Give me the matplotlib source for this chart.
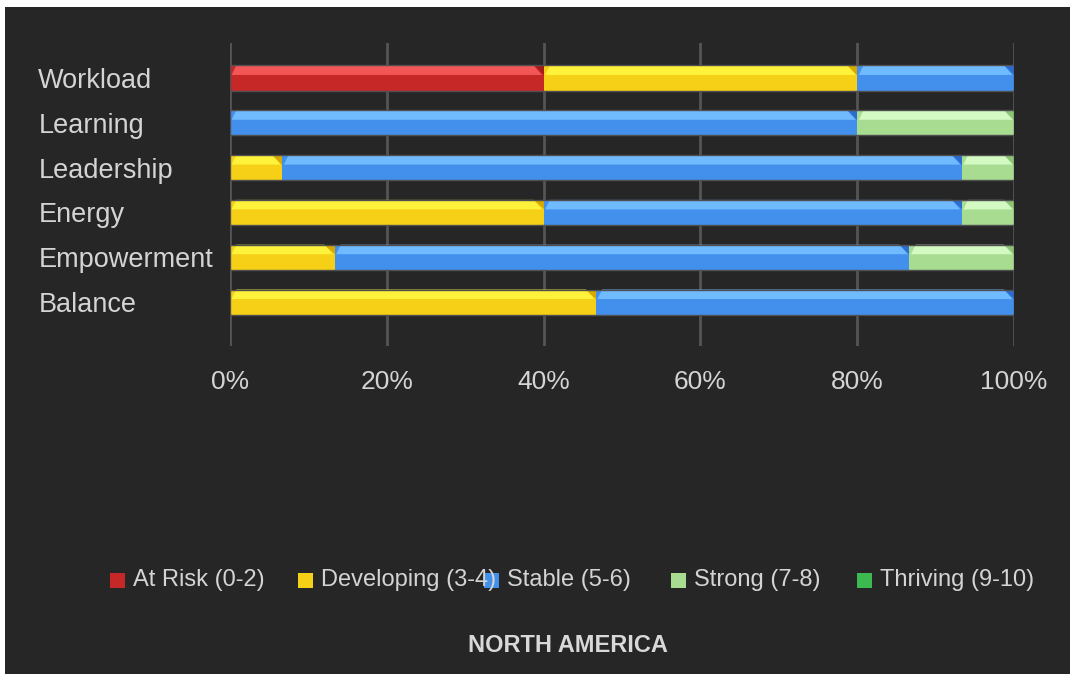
import numpy as np
import matplotlib
matplotlib.use("Agg")
import matplotlib.pyplot as plt
from matplotlib.patches import Polygon, Rectangle

plt.rcParams['font.family'] = ['Liberation Sans', 'DejaVu Sans']

categories = ['Workload', 'Learning', 'Leadership', 'Energy', 'Empowerment', 'Balance']
series = ['At Risk (0-2)', 'Developing (3-4)', 'Stable (5-6)', 'Strong (7-8)', 'Thriving (9-10)']
at_risk = [40, 0, 0, 0, 0, 0]
developing = [40, 0, 6.67, 40, 13.33, 46.67]
stable = [20, 80, 86.67, 53.33, 73.33, 53.33]
strong = [0, 20, 6.67, 6.67, 13.33, 0]
thriving = [0, 0, 0, 0, 0, 0]
ticks = [0, 20, 40, 60, 80, 100]

base_colors = ['#c62828', '#f5d016', '#4290ec', '#a8dc90', '#3cb950']
light_colors = ['#f25656', '#fff23a', '#70baff', '#d2fac2', '#6ee884']
dark_colors = ['#a31c1c', '#d6a800', '#2c6cd0', '#8cc476', '#2a9a3c']

BG = '#262626'
W, H = 1070, 675

fig = plt.figure(figsize=(W / 100, H / 100), dpi=100, facecolor='white')
# dark panel inside the thin white frame
fig.add_artist(Rectangle((5 / W, 1 / H), (W - 5) / W, (H - 8) / H,
                         transform=fig.transFigure, facecolor=BG,
                         edgecolor='none', zorder=-10))

ax = fig.add_axes([230 / W, (H - 346) / H, 784 / W, 303 / H])
ax.set_facecolor(BG)
ax.patch.set_alpha(0)

y = np.arange(len(categories))
bar_h = 0.56
data = [at_risk, developing, stable, strong, thriving]
left = np.zeros(len(categories))

strip = 0.38 * bar_h   # height of the highlight band
slant = 0.8            # horizontal run of the bevel ends, in %

for vals, base, light, dark in zip(data, base_colors, light_colors, dark_colors):
    vals = np.array(vals, dtype=float)
    ax.barh(y, vals, left=left, height=bar_h, color=base, edgecolor='none', zorder=3)
    for yi, l, v in zip(y, left, vals):
        if v <= 0:
            continue
        top = yi - bar_h / 2
        r = l + v
        # darker wedge in the top right corner
        ax.add_patch(Polygon([(r - slant * 1.6, top), (r, top), (r, top + strip)],
                             closed=True, facecolor=dark, edgecolor='none', zorder=4))
        # highlight band with slanted ends
        ax.add_patch(Polygon([(l + slant, top), (r - slant * 1.6, top),
                              (r - 0.2, top + strip), (l + 0.2, top + strip)],
                             closed=True, facecolor=light, edgecolor='none', zorder=5))
    left += vals

# thin outline round each full bar
for yi, total in zip(y, left):
    ax.add_patch(Rectangle((0, yi - bar_h / 2), total, bar_h, fill=False,
                           edgecolor='#505050', linewidth=1.0, zorder=6))

ax.set_xlim(0, 100)
ax.set_ylim(5.98, -0.78)
ax.set_xticks(ticks)
ax.set_xticklabels([f'{t}%' for t in ticks])
ax.set_yticks(y)
ax.set_yticklabels(categories)
for lbl in ax.get_yticklabels():
    lbl.set_horizontalalignment('left')
ax.tick_params(axis='x', length=0, pad=17, labelsize=19, labelcolor='#d4d4d4')
ax.tick_params(axis='y', length=0, pad=138, labelsize=19.5, labelcolor='#d4d4d4')
ax.grid(axis='x', color='#555555', linewidth=2, zorder=0)
ax.set_axisbelow(True)
for s in ax.spines.values():
    s.set_visible(False)

# legend row
marker_x = [110, 298, 484, 671, 857]
for mx, name, col in zip(marker_x, series, base_colors):
    fig.add_artist(Rectangle((mx / W, (H - 588) / H), 15 / W, 15 / H,
                             transform=fig.transFigure, facecolor=col,
                             edgecolor='none', zorder=1))
for mx, name in zip(marker_x, series):
    fig.text((mx + 23) / W, (H - 580) / H, name, fontsize=17, color='#d4d4d4',
             ha='left', va='center', zorder=2)

fig.text(568 / W, (H - 646) / H, 'NORTH AMERICA', fontsize=17, fontweight='bold',
         color='#d8d8d8', ha='center', va='center')

fig.savefig('out.png', dpi=100, facecolor=fig.get_facecolor())
